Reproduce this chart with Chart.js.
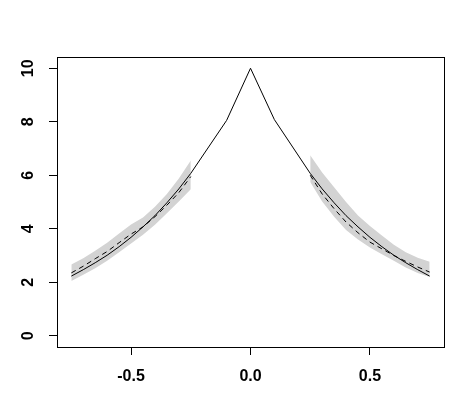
<!DOCTYPE html>
<html>
<head>
<meta charset="utf-8">
<script src="https://cdn.jsdelivr.net/npm/chart.js@4/dist/chart.umd.min.js"></script>
<style>
html,body{margin:0;padding:0;background:#fff;}
#c{display:block;}
</style>
</head>
<body>
<canvas id="c" width="464" height="405"></canvas>
<script>
// ---- data ----
const xLeft  = [-0.75,-0.70,-0.65,-0.60,-0.55,-0.50,-0.45,-0.40,-0.35,-0.30,-0.25];
const xRight = [0.25,0.30,0.35,0.40,0.45,0.50,0.55,0.60,0.65,0.70,0.75];
const xCenter = [-0.25,-0.10,0.00,0.10,0.25];

const solidLeft   = [2.23,2.47,2.73,3.01,3.33,3.68,4.07,4.49,4.97,5.49,6.07];
const solidCenter = [6.07,8.05,10.0,8.08,6.07];
const solidRight  = [6.07,5.49,4.97,4.49,4.07,3.68,3.33,3.01,2.73,2.47,2.23];

const dashLeft  = [2.35,2.60,2.88,3.15,3.48,3.80,4.07,4.45,4.88,5.35,5.95];
const dashRight = [6.00,5.30,4.75,4.25,3.85,3.50,3.25,3.00,2.78,2.57,2.38];

const bandLoLeft  = [2.05,2.28,2.52,2.80,3.12,3.45,3.78,4.15,4.58,5.02,5.48];
const bandHiLeft  = [2.66,2.90,3.18,3.48,3.82,4.16,4.42,4.82,5.30,5.88,6.55];
const bandLoRight = [5.75,5.02,4.45,3.95,3.60,3.30,3.05,2.80,2.55,2.35,2.20];
const bandHiRight = [6.75,6.10,5.55,5.00,4.50,4.10,3.75,3.40,3.12,2.92,2.77];

const xTicks = [-0.5,0.0,0.5];
const yTicks = [0,2,4,6,8,10];

// ---- build ----
const pts = (xs, ys) => xs.map((x,i)=>({x:x,y:ys[i]}));
const band = '#D3D3D3';
const lineBase = {showLine:true, pointRadius:0, borderWidth:1, tension:0, fill:false};

const datasets = [
  Object.assign({}, lineBase, {data:pts(xLeft,solidLeft),   borderColor:'#000'}),
  Object.assign({}, lineBase, {data:pts(xCenter,solidCenter), borderColor:'#000'}),
  Object.assign({}, lineBase, {data:pts(xRight,solidRight), borderColor:'#000'}),
  Object.assign({}, lineBase, {data:pts(xLeft,dashLeft),   borderColor:'#000', borderDash:[5,4]}),
  Object.assign({}, lineBase, {data:pts(xRight,dashRight), borderColor:'#000', borderDash:[5,4]}),
  // bands (drawn underneath)
  Object.assign({}, lineBase, {data:pts(xLeft,bandHiLeft),  borderWidth:0, borderColor:band, backgroundColor:band, fill:{target:6}}),
  Object.assign({}, lineBase, {data:pts(xLeft,bandLoLeft),  borderWidth:0, borderColor:band}),
  Object.assign({}, lineBase, {data:pts(xRight,bandHiRight), borderWidth:0, borderColor:band, backgroundColor:band, fill:{target:8}}),
  Object.assign({}, lineBase, {data:pts(xRight,bandLoRight), borderWidth:0, borderColor:band})
];

const boxPlugin = {
  id:'box',
  afterDraw(chart){
    const a = chart.chartArea, ctx = chart.ctx;
    ctx.save();
    ctx.strokeStyle = '#000';
    ctx.lineWidth = 1;
    ctx.strokeRect(Math.round(a.left)+0.5, Math.round(a.top)+0.5,
                   Math.round(a.right-a.left), Math.round(a.bottom-a.top));
    ctx.restore();
  }
};

const font = {family:"'Liberation Sans', Arial, sans-serif", size:16, weight:'bold'};

new Chart(document.getElementById('c'), {
  type:'scatter',
  data:{datasets:datasets},
  plugins:[boxPlugin],
  options:{
    responsive:false,
    animation:false,
    layout:{padding:{left:0, top:57, right:20, bottom:0}},
    plugins:{legend:{display:false}, tooltip:{enabled:false}, filler:{drawTime:'beforeDatasetsDraw'}},
    scales:{
      x:{
        type:'linear', min:-0.81, max:0.81,
        afterBuildTicks(s){ s.ticks = xTicks.map(v=>({value:v})); },
        afterFit(s){ s.height = 58; },
        grid:{display:true, drawOnChartArea:false, drawTicks:true, tickLength:8, color:'#000', lineWidth:1},
        border:{display:false},
        ticks:{font:font, color:'#000', padding:12, maxRotation:0, minRotation:0,
               callback:v=>Number(v).toFixed(1)}
      },
      y:{
        type:'linear', min:-0.42, max:10.42,
        afterBuildTicks(s){ s.ticks = yTicks.map(v=>({value:v})); },
        afterFit(s){ s.width = 57; },
        grid:{display:true, drawOnChartArea:false, drawTicks:true, tickLength:8, color:'#000', lineWidth:1},
        border:{display:false},
        ticks:{font:font, color:'#000', padding:12, minRotation:90, maxRotation:90, crossAlign:'center',
               callback:v=>String(v)}
      }
    }
  }
});
</script>
</body>
</html>
